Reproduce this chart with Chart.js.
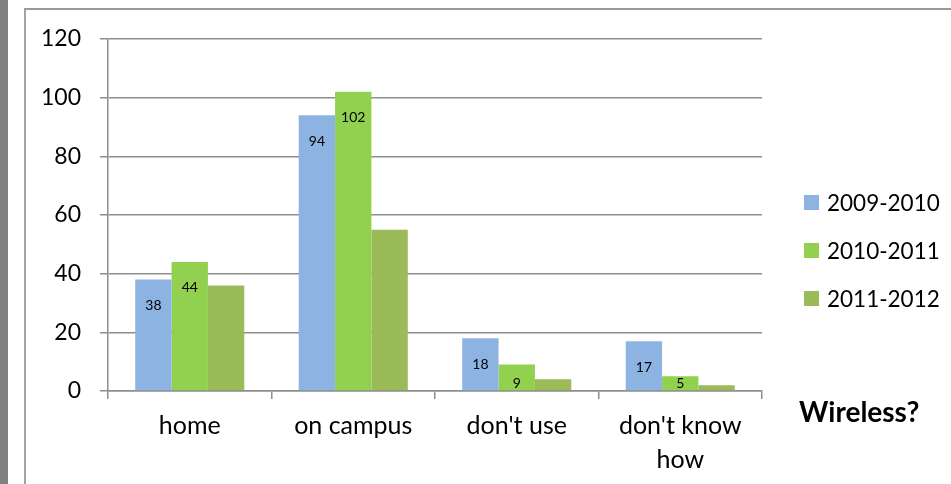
<!DOCTYPE html>
<html>
<head>
<meta charset="utf-8">
<script src="https://cdn.jsdelivr.net/npm/chart.js@4"></script>
<style>
  html, body { margin: 0; padding: 0; background: #fff; }
  body { width: 951px; height: 484px; position: relative; overflow: hidden; }
  .strip { position: absolute; left: 0; top: 0; width: 8px; height: 484px; background: #808080; }
  .frame { position: absolute; left: 24px; top: 8px; width: 940px; height: 500px;
           border-left: 2px solid #a3a3a3; border-top: 2px solid #999; }
  canvas { position: absolute; left: 0; top: 0; }
</style>
</head>
<body>
<div class="strip"></div>
<div class="frame"></div>
<canvas id="wirelessChart" width="951" height="484"></canvas>
<script>
// Categories and series
const categories = ['home', 'on campus', "don't use", ["don't know", 'how']];
const seriesNames = ['2009-2010', '2010-2011', '2011-2012'];
const year0910 = [38, 94, 18, 17];
const year1011 = [44, 102, 9, 5];
const year1112 = [36, 55, 4, 2];
const yTicks = [0, 20, 40, 60, 80, 100, 120];
const axisTitle = 'Wireless?';

const colors = ['#8db3e2', '#92d050', '#9bbb59'];
const fontFamily = 'Lato, "Open Sans", sans-serif';

// Only the first two series carry value labels in the original
const labelledSets = [0, 1];

const valueLabels = {
	id: 'valueLabels',
	afterDatasetsDraw(chart) {
		const ctx = chart.ctx;
		const bottom = chart.chartArea.bottom;
		ctx.save();
		ctx.font = '14px ' + fontFamily;
		ctx.fillStyle = '#000';
		ctx.textAlign = 'center';
		ctx.textBaseline = 'middle';
		labelledSets.forEach(di => {
			const meta = chart.getDatasetMeta(di);
			meta.data.forEach((bar, i) => {
				const v = chart.data.datasets[di].data[i];
				// sit inside the top of the bar, but not below the axis
				const y = Math.min(bar.y + 26, bottom - 8);
				ctx.fillText(String(v), bar.x, y);
			});
		});
		ctx.restore();
	}
};

// Legend and axis title sit to the right, as in the Excel chart
const sideLegend = {
	id: 'sideLegend',
	afterDraw(chart) {
		const ctx = chart.ctx;
		ctx.save();
		ctx.font = '22.5px ' + fontFamily;
		ctx.textBaseline = 'alphabetic';
		chart.data.datasets.forEach((ds, i) => {
			const base = 211 + i * 48;
			ctx.fillStyle = ds.backgroundColor;
			ctx.fillRect(804, base - 16, 15, 15);
			ctx.fillStyle = '#000';
			ctx.fillText(ds.label, 827, base);
		});
		ctx.font = 'bold 28px ' + fontFamily;
		ctx.fillText(axisTitle, 799, 422);
		ctx.restore();
	}
};

const ctx = document.getElementById('wirelessChart').getContext('2d');
new Chart(ctx, {
	type: 'bar',
	data: {
		labels: categories,
		datasets: [
			{ label: seriesNames[0], data: year0910, backgroundColor: colors[0] },
			{ label: seriesNames[1], data: year1011, backgroundColor: colors[1] },
			{ label: seriesNames[2], data: year1112, backgroundColor: colors[2] }
		].map(ds => Object.assign(ds, {
			categoryPercentage: 0.667,
			barPercentage: 1.0,
			borderWidth: 0
		}))
	},
	options: {
		responsive: false,
		animation: false,
		layout: { padding: { left: 0, right: 189, top: 39, bottom: 0 } },
		plugins: {
			legend: { display: false },
			tooltip: { enabled: false }
		},
		scales: {
			x: {
				grid: {
					offset: true,
					drawOnChartArea: false,
					drawTicks: true,
					tickLength: 8,
					color: '#8e8e8e',
					lineWidth: 1.5
				},
				border: { display: true, color: '#8e8e8e', width: 1.5 },
				ticks: {
					color: '#000',
					padding: 10,
					maxRotation: 0,
					font: { family: fontFamily, size: 25, lineHeight: 1.36 }
				},
				afterFit(axis) { axis.height = 93; }
			},
			y: {
				min: 0,
				max: 120,
				afterBuildTicks(axis) { axis.ticks = yTicks.map(v => ({ value: v })); },
				grid: {
					color: '#8e8e8e',
					lineWidth: 1.5,
					drawTicks: true,
					tickLength: 8
				},
				border: { display: true, color: '#8e8e8e', width: 1.5 },
				ticks: {
					color: '#000',
					padding: 19,
					font: { family: fontFamily, size: 23 }
				},
				afterFit(axis) { axis.width = 108; }
			}
		}
	},
	plugins: [valueLabels, sideLegend]
});
</script>
</body>
</html>
